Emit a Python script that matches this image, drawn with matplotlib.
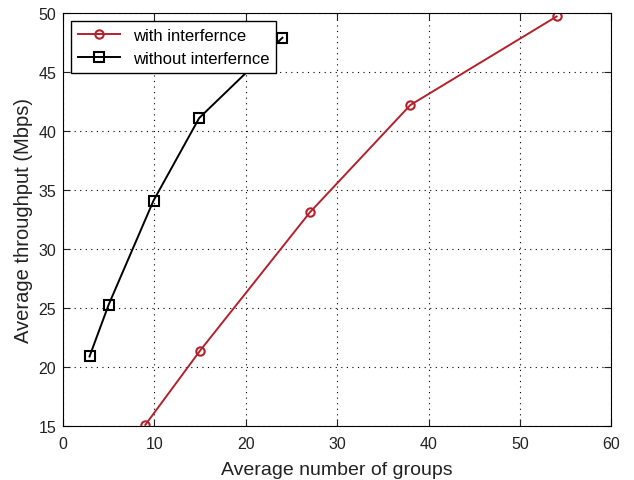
import matplotlib.pyplot as plt

# Data
groups_with = [9, 15, 27, 38, 54]
thr_with = [15.1, 21.4, 33.1, 42.2, 49.7]
groups_without = [2.9, 5, 9.9, 14.9, 24]
thr_without = [20.9, 25.3, 34.1, 41.1, 47.9]

plt.rcParams['font.family'] = ['Liberation Sans', 'DejaVu Sans']

fig = plt.figure(figsize=(6.34, 4.81), dpi=100)
ax = fig.add_axes([0.0994, 0.112, 0.865, 0.859])

ax.plot(groups_with, thr_with, '-o', color='#b3212c', lw=1.4, ms=6,
        mfc='none', mew=1.5, label='with interfernce')
ax.plot(groups_without, thr_without, '-s', color='black', lw=1.4, ms=7,
        mfc='none', mew=1.5, label='without interfernce')

ax.set_xlim(0, 60)
ax.set_ylim(15, 50)
ax.set_xticks(range(0, 61, 10))
ax.set_yticks(range(15, 51, 5))
ax.grid(True, linestyle=(0, (1, 4)), color='black', lw=0.8)
ax.tick_params(direction='in', top=True, right=True, labelsize=11.5, length=5,
               colors='#222222')
ax.tick_params(axis='x', pad=7)
ax.tick_params(axis='y', pad=5)
ax.set_xlabel('Average number of groups', fontsize=14, labelpad=7, color='#222222')
ax.set_ylabel('Average throughput (Mbps)', fontsize=14.5, labelpad=4, color='#222222')

leg = ax.legend(loc='upper left', fontsize=12, fancybox=False, framealpha=1,
                edgecolor='black', borderaxespad=0.5, handlelength=2.5)
leg.get_frame().set_linewidth(1)

fig.savefig('out.png', dpi=100)
